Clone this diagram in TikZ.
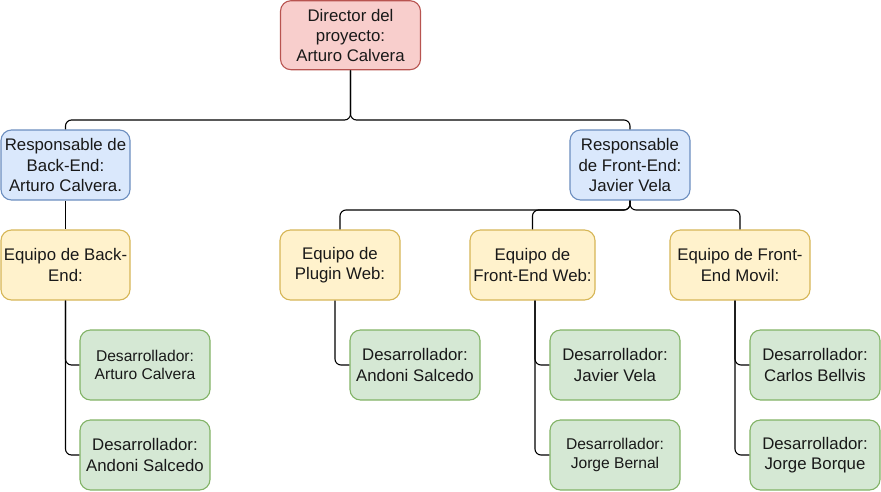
\documentclass[tikz,border=0pt]{standalone}
\usepackage{fontspec}
\setmainfont{Liberation Sans}
\begin{document}
\begin{tikzpicture}[x=1pt,y=-1pt,
  box/.style={draw, rounded corners=10.5pt, line width=1.1pt, inner sep=0pt, align=center,
    font=\fontsize{16.8}{20.2}\selectfont, text=black!90},
  small/.style={font=\fontsize{15.6}{18.7}\selectfont},
  redbox/.style={box, fill=red!0!white, fill={rgb,255:red,248;green,206;blue,204}, draw={rgb,255:red,184;green,84;blue,80}},
  bluebox/.style={box, fill={rgb,255:red,218;green,232;blue,252}, draw={rgb,255:red,108;green,142;blue,191}},
  yelbox/.style={box, fill={rgb,255:red,255;green,242;blue,204}, draw={rgb,255:red,214;green,182;blue,86}},
  grnbox/.style={box, fill={rgb,255:red,213;green,232;blue,212}, draw={rgb,255:red,130;green,179;blue,102}},
  wire/.style={draw=black, line width=1.1pt, rounded corners=6pt}
]
\useasboundingbox (0,0) rectangle (881,491);

\node[redbox, minimum width=140pt, minimum height=69pt] (dir) at (350.5,35.2) {Director del\\proyecto:\\Arturo Calvera};
\node[bluebox, minimum width=129pt, minimum height=70pt] (rb) at (65.5,165) {Responsable de\\Back-End:\\Arturo Calvera.};
\node[bluebox, minimum width=120pt, minimum height=70pt] (rf) at (630,165) {Responsable\\de Front-End:\\Javier Vela};

\node[yelbox, minimum width=129pt, minimum height=70pt] (eb) at (65.5,265) {Equipo de Back-\\End:};
\node[yelbox, minimum width=120pt, minimum height=70pt] (ep) at (340,265) {Equipo de\\Plugin Web:};
\node[yelbox, minimum width=125pt, minimum height=70pt] (ew) at (532.5,265) {Equipo de\\Front-End Web:};
\node[yelbox, minimum width=140pt, minimum height=70pt] (em) at (740,265) {Equipo de Front-\\End Movil:};

\node[grnbox, small, minimum width=130pt, minimum height=70pt] (db1) at (145,365) {Desarrollador:\\Arturo Calvera};
\node[grnbox, minimum width=130pt, minimum height=70pt] (db2) at (145,455) {Desarrollador:\\Andoni Salcedo};
\node[grnbox, minimum width=130pt, minimum height=70pt] (dp) at (415,365) {Desarrollador:\\Andoni Salcedo};
\node[grnbox, minimum width=130pt, minimum height=70pt] (dw1) at (615,365) {Desarrollador:\\Javier Vela};
\node[grnbox, small, minimum width=130pt, minimum height=70pt] (dw2) at (615,455) {Desarrollador:\\Jorge Bernal};
\node[grnbox, minimum width=130pt, minimum height=70pt] (dm1) at (815,365) {Desarrollador:\\Carlos Bellvis};
\node[grnbox, minimum width=130pt, minimum height=70pt] (dm2) at (815,455) {Desarrollador:\\Jorge Borque};

\coordinate (busA) at (0,120);
\coordinate (busB) at (0,210);

% director to responsables
\draw[wire] (dir.south) -- (dir.south |- busA) -| (rb.north);
\draw[wire] (dir.south) -- (dir.south |- busA) -| (rf.north);
\draw[wire] (rb.south) -- (eb.north);

% front-end responsable to teams
\draw[wire] (rf.south) -- (rf.south |- busB) -| (ep.north);
\draw[wire] (rf.south) -- (rf.south |- busB) -| (ew.north);
\draw[wire] (rf.south) -- (rf.south |- busB) -| (em.north);

% teams to developers
\draw[wire] (eb.south) |- (db1.west);
\draw[wire] (eb.south) |- (db2.west);
\draw[wire] ([xshift=-5pt]ep.south) |- (dp.west);
\draw[wire] ([xshift=2.5pt]ew.south) |- (dw1.west);
\draw[wire] ([xshift=2.5pt]ew.south) |- (dw2.west);
\draw[wire] ([xshift=-5pt]em.south) |- (dm1.west);
\draw[wire] ([xshift=-5pt]em.south) |- (dm2.west);
\end{tikzpicture}
\end{document}
